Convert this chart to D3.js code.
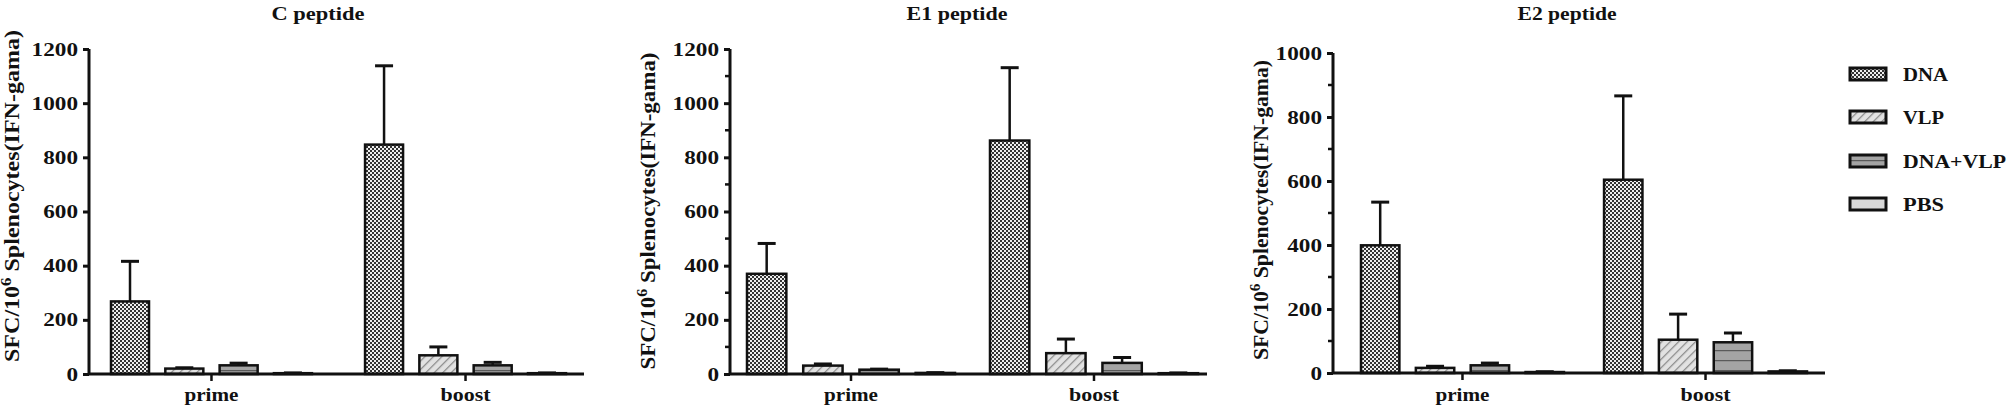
<!DOCTYPE html>
<html><head><meta charset="utf-8">
<script src="https://cdn.jsdelivr.net/npm/d3@7"></script>
<style>
html,body{margin:0;padding:0;background:#fff;}
svg text{font-family:"Liberation Serif","Times New Roman",serif;font-weight:bold;fill:#111;}
</style></head>
<body>
<svg id="chart" width="2007" height="409"></svg>
<script>
// ---- data ----
const groups = ["prime", "boost"];
const series = ["DNA", "VLP", "DNA+VLP", "PBS"];
const titles = ["C peptide", "E1 peptide", "E2 peptide"];

const cPrimeMean = [268, 20, 32, 3];
const cPrimeSD   = [148, 3, 8, 1];
const cBoostMean = [847, 69, 32, 3];
const cBoostSD   = [291, 31, 11, 1];

const e1PrimeMean = [370, 31, 16, 4];
const e1PrimeSD   = [112, 6, 2, 1];
const e1BoostMean = [862, 77, 41, 3];
const e1BoostSD   = [269, 52, 20, 1];

const e2PrimeMean = [399, 16, 24, 3];
const e2PrimeSD   = [135, 5, 7, 1];
const e2BoostMean = [604, 104, 96, 5];
const e2BoostSD   = [262, 80, 29, 2];

const yTicksC  = [0, 200, 400, 600, 800, 1000, 1200];
const yTicksE1 = [0, 200, 400, 600, 800, 1000, 1200];
const yTicksE2 = [0, 200, 400, 600, 800, 1000];
const minorE1  = [100, 300, 500, 700, 900, 1100];
const minorE2  = [100, 300, 500, 700, 900];

const yLabelMain = "SFC/10";
const yLabelSup = "6";
const yLabelRest = " Splenocytes(IFN-gama)";

// ---- layout (not data) ----
const panels = [
  {title: titles[0], means: [cPrimeMean, cBoostMean], sds: [cPrimeSD, cBoostSD], ticks: yTicksC, minor: [], ymax: 1200,
   axisX: 89, axisEnd: 584, y0: 374, yTop: 49, barL: 111, barR: 566, pin: 0.209, titleX: 318, titleLen: 93,
   ylabX: 19, ylabY: 196, ylabLen: 332},
  {title: titles[1], means: [e1PrimeMean, e1BoostMean], sds: [e1PrimeSD, e1BoostSD], ticks: yTicksE1, minor: minorE1, ymax: 1200,
   axisX: 730, axisEnd: 1207, y0: 374, yTop: 49, barL: 747, barR: 1198, pin: 0.144, titleX: 957, titleLen: 101,
   ylabX: 655, ylabY: 211, ylabLen: 317},
  {title: titles[2], means: [e2PrimeMean, e2BoostMean], sds: [e2PrimeSD, e2BoostSD], ticks: yTicksE2, minor: minorE2, ymax: 1000,
   axisX: 1333, axisEnd: 1825, y0: 373, yTop: 53, barL: 1361, barR: 1807, pin: 0.165, titleX: 1567, titleLen: 99,
   ylabX: 1268, ylabY: 210, ylabLen: 300}
];

const svg = d3.select("#chart");
const defs = svg.append("defs");

// DNA: fine checker
const pDna = defs.append("pattern").attr("id", "pDNA").attr("patternUnits", "userSpaceOnUse")
  .attr("width", 4).attr("height", 4);
pDna.append("rect").attr("width", 4).attr("height", 4).attr("fill", "#eeeeee");
pDna.append("rect").attr("x", 0).attr("y", 0).attr("width", 2).attr("height", 2).attr("fill", "#333");
pDna.append("rect").attr("x", 2).attr("y", 2).attr("width", 2).attr("height", 2).attr("fill", "#333");

// VLP: diagonal hatch
const pVlp = defs.append("pattern").attr("id", "pVLP").attr("patternUnits", "userSpaceOnUse")
  .attr("width", 6).attr("height", 6).attr("patternTransform", "rotate(45)");
pVlp.append("rect").attr("width", 6).attr("height", 6).attr("fill", "#e2e2e2");
pVlp.append("line").attr("x1", 0).attr("y1", 0).attr("x2", 0).attr("y2", 6)
  .attr("stroke", "#8a8a8a").attr("stroke-width", 2.5);

// DNA+VLP: gray with horizontal lines
const pDv = defs.append("pattern").attr("id", "pDV").attr("patternUnits", "userSpaceOnUse")
  .attr("width", 10).attr("height", 10);
pDv.append("rect").attr("width", 10).attr("height", 10).attr("fill", "#a4a4a4");
pDv.append("line").attr("x1", 0).attr("y1", 0.5).attr("x2", 10).attr("y2", 0.5)
  .attr("stroke", "#5a5a5a").attr("stroke-width", 1.5);

const fills = ["url(#pDNA)", "url(#pVLP)", "url(#pDV)", "#d8d8d8"];

panels.forEach(p => {
  const g = svg.append("g");
  const y = d3.scaleLinear().domain([0, p.ymax]).range([p.y0, p.yTop]);
  const x0 = d3.scaleBand().domain(groups).range([p.barL, p.barR]).paddingInner(p.pin).paddingOuter(0);
  const x1 = d3.scaleBand().domain(series).range([0, x0.bandwidth()]).paddingInner(0.3).paddingOuter(0);

  // title
  g.append("text").attr("x", p.titleX).attr("y", 20).attr("text-anchor", "middle")
    .attr("font-size", 19).attr("textLength", p.titleLen).attr("lengthAdjust", "spacingAndGlyphs")
    .text(p.title);

  // y axis
  const yAxis = d3.axisLeft(y).tickValues(p.ticks).tickSize(6).tickPadding(5).tickFormat(d3.format("d"));
  const ya = g.append("g").attr("transform", `translate(${p.axisX},0)`).call(yAxis);
  ya.select(".domain").attr("stroke", "#111").attr("stroke-width", 3)
    .attr("d", `M0,${p.y0}V${p.yTop}`);
  ya.selectAll(".tick line").attr("stroke", "#111").attr("stroke-width", 3);
  ya.selectAll(".tick text").attr("font-size", 19).attr("font-family", "Liberation Serif").attr("font-weight", "bold")
    .attr("fill", "#111")
    .attr("textLength", d => String(d).length * 11.6).attr("lengthAdjust", "spacingAndGlyphs");
  // minor ticks
  g.selectAll(".minor").data(p.minor).enter().append("line")
    .attr("x1", p.axisX - 5).attr("x2", p.axisX).attr("y1", d => y(d)).attr("y2", d => y(d))
    .attr("stroke", "#111").attr("stroke-width", 2.5);

  // y label
  const yl = g.append("text").attr("transform", `translate(${p.ylabX},${p.ylabY}) rotate(-90)`)
    .attr("text-anchor", "middle").attr("font-size", 20)
    .attr("textLength", p.ylabLen).attr("lengthAdjust", "spacingAndGlyphs");
  yl.append("tspan").text(yLabelMain);
  yl.append("tspan").attr("dy", -8).attr("font-size", 14).text(yLabelSup);
  yl.append("tspan").attr("dy", 8).text(yLabelRest);

  // bars
  groups.forEach((grp, gi) => {
    const gx = x0(grp);
    series.forEach((s, si) => {
      const v = p.means[gi][si], sd = p.sds[gi][si];
      const bx = gx + x1(s), bw = x1.bandwidth();
      const cx = bx + bw / 2;
      // error bar
      g.append("line").attr("x1", cx).attr("x2", cx).attr("y1", y(v)).attr("y2", y(v + sd))
        .attr("stroke", "#111").attr("stroke-width", 2.5);
      g.append("line").attr("x1", cx - 9).attr("x2", cx + 9).attr("y1", y(v + sd)).attr("y2", y(v + sd))
        .attr("stroke", "#111").attr("stroke-width", 3);
      g.append("rect").attr("x", bx).attr("y", y(v)).attr("width", bw).attr("height", y(0) - y(v))
        .attr("fill", fills[si]).attr("stroke", "#111").attr("stroke-width", 2.5);
    });
  });

  // x axis
  g.append("line").attr("x1", p.axisX).attr("x2", p.axisEnd).attr("y1", p.y0).attr("y2", p.y0)
    .attr("stroke", "#111").attr("stroke-width", 3);
  groups.forEach(grp => {
    const cx = x0(grp) + x0.bandwidth() / 2;
    g.append("line").attr("x1", cx).attr("x2", cx).attr("y1", p.y0).attr("y2", p.y0 + 7)
      .attr("stroke", "#111").attr("stroke-width", 2.5);
    g.append("text").attr("x", cx).attr("y", 401).attr("text-anchor", "middle").attr("font-size", 19)
      .attr("textLength", grp === "prime" ? 54 : 50).attr("lengthAdjust", "spacingAndGlyphs")
      .text(grp);
  });
});

// legend
const legY = [74, 117, 161, 204];
const legLen = [45, 41, 103, 41];
const leg = svg.append("g");
series.forEach((s, i) => {
  leg.append("rect").attr("x", 1850).attr("y", legY[i] - 6).attr("width", 36).attr("height", 12)
    .attr("fill", fills[i]).attr("stroke", "#111").attr("stroke-width", 3);
  leg.append("text").attr("x", 1903).attr("y", legY[i] + 7).attr("font-size", 19)
    .attr("textLength", legLen[i]).attr("lengthAdjust", "spacingAndGlyphs").text(s);
});
</script>
</body></html>
